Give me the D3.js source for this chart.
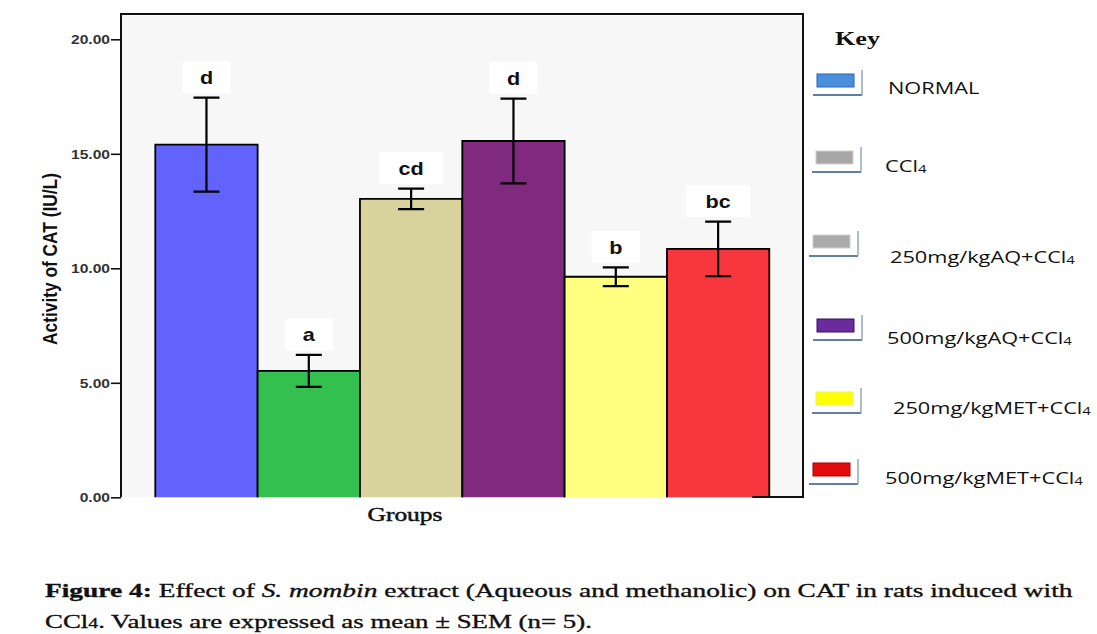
<!DOCTYPE html>
<html>
<head>
<meta charset="utf-8">
<script src="https://cdn.jsdelivr.net/npm/d3@7"></script>
<style>
  html, body { margin: 0; padding: 0; background: #ffffff; }
  svg { display: block; }
</style>
</head>
<body>
<svg id="chart" width="1097" height="634"></svg>
<script>
// ---- data ----
const groups = ["NORMAL", "CCl4", "250mg/kgAQ+CCl4", "500mg/kgAQ+CCl4", "250mg/kgMET+CCl4", "500mg/kgMET+CCl4"];
const means = [15.40, 5.52, 13.03, 15.56, 9.63, 10.85];
const sems = [2.05, 0.70, 0.45, 1.85, 0.41, 1.19];
const letters = ["d", "a", "cd", "d", "b", "bc"];
const yTicks = [0, 5, 10, 15, 20];
const barColors = ["#6262fc", "#33c04e", "#d8d39c", "#7f2a7e", "#ffff80", "#f8363d"];
const keyColors = ["#4a8fdb", "#a7a7a7", "#aaaaaa", "#6b2b9c", "#ffff00", "#e30b0b"];
const keyBorders = ["#2a66b0", "#d0d0d0", "#d0d0d0", "#3b1060", "#f0f060", "#b00000"];

// ---- layout ----
const frame = { left: 121, right: 803, top: 14, bottom: 497 };
const keyRows = [
  { rx: 817, ry: 74, tx: 888, ty: 88 },
  { rx: 816, ry: 151, tx: 885, ty: 166 },
  { rx: 813, ry: 235, tx: 890, ty: 257 },
  { rx: 817, ry: 319, tx: 887, ty: 338 },
  { rx: 816, ry: 392, tx: 893, ty: 408 },
  { rx: 813, ry: 463, tx: 885, ty: 478 }
];

const svg = d3.select("#chart");

const x = d3.scaleBand().domain(groups).range([155.3, 769.3]).padding(0);
const y = d3.scaleLinear().domain([0, 20]).range([497.3, 39.3]);

// stretch a text element horizontally so it spans the given width
function fitWidth(sel, width, sy) {
  sel.each(function () {
    const n = this.getComputedTextLength();
    const base = d3.select(this.parentNode);
    base.attr("transform", base.attr("transform") + ` scale(${width / n},${sy || 1})`);
  });
}

// plot background and frame
svg.append("rect")
  .attr("x", frame.left + 1).attr("y", frame.top + 2)
  .attr("width", frame.right - frame.left - 2).attr("height", frame.bottom - frame.top - 2)
  .attr("fill", "#f7f7f7");

// bars (sides and top outlined)
svg.append("g").selectAll("path")
  .data(groups)
  .join("path")
  .attr("d", (g, i) => {
    const x0 = x(g), x1 = x(g) + x.bandwidth();
    return `M${x0},${y(0)} V${y(means[i])} H${x1} V${y(0)}`;
  })
  .attr("fill", (g, i) => barColors[i])
  .attr("stroke", "#000")
  .attr("stroke-width", 1.8);

svg.append("path")
  .attr("d", `M${frame.left},${frame.bottom} V${frame.top} H${frame.right} V${frame.bottom} H${x(groups[5]) + x.bandwidth() - 17}`)
  .attr("fill", "none").attr("stroke", "#111").attr("stroke-width", 2);

// error bars
const cap = 13;
const err = svg.append("g").attr("stroke", "#000").attr("stroke-width", 2.2).attr("fill", "none");
groups.forEach((g, i) => {
  const cx = x(g) + x.bandwidth() / 2;
  const hi = y(means[i] + sems[i]), lo = y(means[i] - sems[i]);
  err.append("path").attr("d",
    `M${cx},${hi} V${lo} M${cx - cap},${hi} H${cx + cap} M${cx - cap},${lo} H${cx + cap}`);
});

// significance letters in white boxes above the error bars
const lab = svg.append("g");
groups.forEach((g, i) => {
  const cx = x(g) + x.bandwidth() / 2;
  const bottom = y(means[i] + sems[i]) - 4.5;
  const w = letters[i].length > 1 ? 64 : 48;
  lab.append("rect")
    .attr("x", cx - w / 2).attr("y", bottom - 32)
    .attr("width", w).attr("height", 32)
    .attr("fill", "#ffffff");
  lab.append("g")
    .attr("transform", `translate(${cx},${bottom - 9}) scale(1.2,1)`)
    .append("text")
    .attr("text-anchor", "middle")
    .attr("font-family", "Liberation Sans, Arial, sans-serif")
    .attr("font-weight", "bold")
    .attr("font-size", 18)
    .attr("fill", "#111")
    .text(letters[i]);
});

// y axis
const yAxis = svg.append("g")
  .attr("transform", `translate(${frame.left},0)`)
  .call(d3.axisLeft(y).tickValues(yTicks).tickFormat(d3.format(".2f")).tickSize(10).tickSizeOuter(0));
yAxis.select(".domain").remove();
yAxis.selectAll(".tick line").attr("stroke", "#111").attr("stroke-width", 1.6);
yAxis.selectAll(".tick text")
  .attr("x", 0).attr("dy", "0.36em")
  .attr("transform", "translate(-11,0) scale(1.25,1)")
  .attr("font-family", "Liberation Sans, Arial, sans-serif")
  .attr("font-weight", "bold")
  .attr("font-size", 12.5)
  .attr("fill", "#333");

// axis titles
svg.append("g")
  .attr("transform", "translate(57,259) rotate(-90)")
  .append("text")
  .attr("text-anchor", "middle")
  .attr("font-family", "Liberation Sans, Arial, sans-serif")
  .attr("font-weight", "bold")
  .attr("font-size", 16)
  .attr("fill", "#111")
  .text("Activity of CAT (IU/L)")
  .call(fitWidth, 172, 1.25);

svg.append("g")
  .attr("transform", "translate(405,521)")
  .append("text")
  .attr("text-anchor", "middle")
  .attr("font-family", "Liberation Serif, Times New Roman, serif")
  .attr("font-size", 18)
  .attr("fill", "#111")
  .attr("stroke", "#111").attr("stroke-width", 0.45)
  .text("Groups")
  .call(fitWidth, 75);

// key
svg.append("g")
  .attr("transform", "translate(835,45)")
  .append("text")
  .attr("font-family", "Liberation Serif, Times New Roman, serif")
  .attr("font-weight", "bold")
  .attr("font-size", 18)
  .attr("fill", "#111")
  .text("Key")
  .call(fitWidth, 45);

const key = svg.append("g");
groups.forEach((g, i) => {
  const r = keyRows[i];
  const w = 37, h = 13;
  key.append("rect")
    .attr("x", r.rx).attr("y", r.ry).attr("width", w).attr("height", h)
    .attr("fill", keyColors[i]).attr("stroke", keyBorders[i]).attr("stroke-width", 1);
  key.append("path")
    .attr("d", `M${r.rx - 4},${r.ry + h + 8} H${r.rx + w + 8}`)
    .attr("stroke", "#5f7fa3").attr("stroke-width", 2).attr("fill", "none");
  key.append("path")
    .attr("d", `M${r.rx + w + 8},${r.ry - 4} V${r.ry + h + 8}`)
    .attr("stroke", "#9aaec6").attr("stroke-width", 1.6).attr("fill", "none");

  const t = key.append("g")
    .attr("transform", `translate(${r.tx},${r.ty + 5.5}) scale(1.36,1)`)
    .append("text")
    .attr("font-family", "Open Sans, sans-serif")
    .attr("font-size", 16)
    .attr("fill", "#111");
  if (g.endsWith("CCl4")) {
    t.append("tspan").text(g.slice(0, -1));
    t.append("tspan").attr("font-size", 11).attr("dy", 1).text("4");
  } else {
    t.text(g);
  }
});

// caption
const cap1 = svg.append("g").attr("transform", "translate(45,597)")
  .append("text")
  .attr("font-family", "Liberation Serif, Times New Roman, serif")
  .attr("font-size", 19)
  .attr("fill", "#111")
  .attr("stroke", "#111").attr("stroke-width", 0.35);
cap1.append("tspan").attr("font-weight", "bold").text("Figure 4: ");
cap1.append("tspan").text("Effect of ");
cap1.append("tspan").attr("font-style", "italic").text("S. mombin");
cap1.append("tspan").text(" extract (Aqueous and methanolic) on CAT in rats induced with");
cap1.call(fitWidth, 1028);

const cap2 = svg.append("g").attr("transform", "translate(45,628)")
  .append("text")
  .attr("font-family", "Liberation Serif, Times New Roman, serif")
  .attr("font-size", 19)
  .attr("fill", "#111")
  .attr("stroke", "#111").attr("stroke-width", 0.35);
cap2.append("tspan").text("CCl");
cap2.append("tspan").attr("font-size", 14).text("4");
cap2.append("tspan").text(". Values are expressed as mean \u00b1 SEM (n= 5).");
cap2.call(fitWidth, 547);
</script>
</body>
</html>
